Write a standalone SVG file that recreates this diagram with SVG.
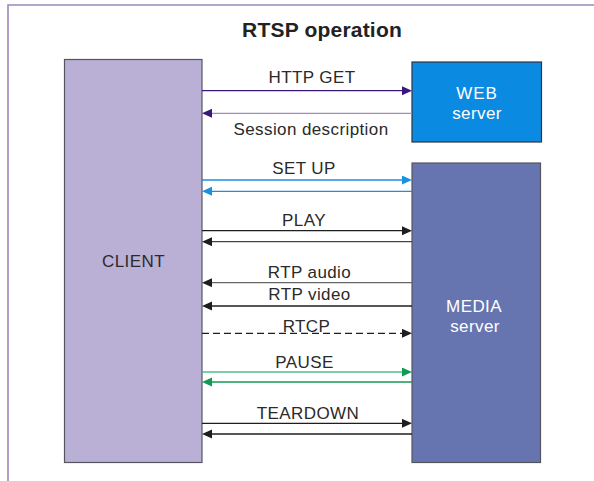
<svg xmlns="http://www.w3.org/2000/svg" width="594" height="481" viewBox="0 0 594 481">
<defs>
<style>
text{font-family:"Liberation Sans",Arial,sans-serif;font-size:17px;fill:#2a2a2a;text-anchor:middle;letter-spacing:0.4px}
.title{font-weight:bold;font-size:21px;fill:#222;letter-spacing:0.2px}
.w{fill:#ffffff}
.ln{fill:none;stroke-width:1.3}
</style>
<marker id="ap" markerUnits="userSpaceOnUse" markerWidth="11" markerHeight="10" refX="0" refY="4.5" orient="auto"><path d="M0,0 L10,4.5 L0,9 z" fill="#3a1878"/></marker>
<marker id="ab" markerUnits="userSpaceOnUse" markerWidth="11" markerHeight="10" refX="0" refY="4.5" orient="auto"><path d="M0,0 L10,4.5 L0,9 z" fill="#1a90e2"/></marker>
<marker id="ak" markerUnits="userSpaceOnUse" markerWidth="11" markerHeight="10" refX="0" refY="4.5" orient="auto"><path d="M0,0 L10,4.5 L0,9 z" fill="#1e1e1e"/></marker>
<marker id="ag" markerUnits="userSpaceOnUse" markerWidth="11" markerHeight="10" refX="0" refY="4.5" orient="auto"><path d="M0,0 L10,4.5 L0,9 z" fill="#109a55"/></marker>
</defs>
<rect width="594" height="481" fill="#ffffff"/>
<path d="M8,481 V5 H594" fill="none" stroke="#9a88bc" stroke-width="1.6"/>
<text class="title" x="322" y="36.5">RTSP operation</text>

<g id="client">
<rect x="64.5" y="59.5" width="137.5" height="403" fill="#bab0d6" stroke="#555560" stroke-width="1.2"/>
<text x="133.5" y="266.5">CLIENT</text>
</g>
<g id="web-server">
<rect x="412" y="62" width="129.5" height="80" fill="#0a8ae0" stroke="#333340" stroke-width="1.2"/>
<text class="w" x="477" y="99.3" style="letter-spacing:1px">WEB</text>
<text class="w" x="477" y="119.3">server</text>
</g>
<g id="media-server">
<rect x="412" y="163" width="128.5" height="299.5" fill="#6674b0" stroke="#555560" stroke-width="1.2"/>
<text class="w" x="474" y="312.3">MEDIA</text>
<text class="w" x="475" y="331.7">server</text>
</g>

<g id="connectors">
<path class="ln" d="M202,90.7 H402" stroke="#3a1878" marker-end="url(#ap)"/>
<path class="ln" d="M412,113.3 H212" stroke="#9a8cc4" marker-end="url(#ap)"/>
<path class="ln" d="M202,180 H402" stroke="#1a90e2" marker-end="url(#ab)"/>
<path class="ln" d="M412,191.3 H212" stroke="#1a90e2" marker-end="url(#ab)"/>
<path class="ln" d="M202,230.7 H402" stroke="#1e1e1e" marker-end="url(#ak)"/>
<path class="ln" d="M412,241.7 H212" stroke="#444" marker-end="url(#ak)"/>
<path class="ln" d="M412,282.7 H212" stroke="#666" marker-end="url(#ak)"/>
<path class="ln" d="M412,306 H212" stroke="#1e1e1e" marker-end="url(#ak)"/>
<path class="ln" d="M202,333.3 H402" stroke="#1e1e1e" stroke-dasharray="7,4" marker-end="url(#ak)"/>
<path class="ln" d="M202,372 H402" stroke="#4cbc8a" marker-end="url(#ag)"/>
<path class="ln" d="M412,382 H212" stroke="#109a55" marker-end="url(#ag)"/>
<path class="ln" d="M202,423.3 H402" stroke="#1e1e1e" marker-end="url(#ak)"/>
<path class="ln" d="M412,434 H212" stroke="#1e1e1e" marker-end="url(#ak)"/>
<text x="312" y="83">HTTP GET</text>
<text x="311" y="135">Session description</text>
<text x="304" y="174">SET UP</text>
<text x="304" y="225.7">PLAY</text>
<text x="309.5" y="278">RTP audio</text>
<text x="309.5" y="299.5">RTP video</text>
<text x="306.5" y="332">RTCP</text>
<text x="304.5" y="367.7">PAUSE</text>
<text x="308" y="418.7">TEARDOWN</text>
</g>
</svg>
